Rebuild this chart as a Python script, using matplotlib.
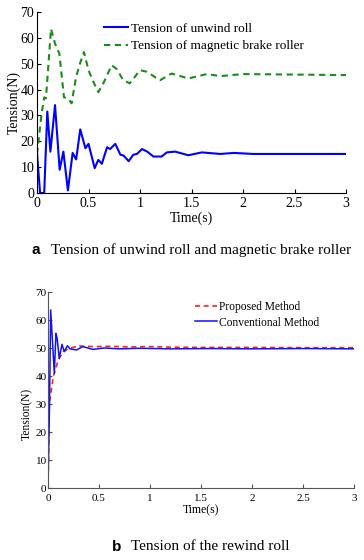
import numpy as np
import matplotlib
matplotlib.use('Agg')
import matplotlib.pyplot as plt

plt.rcParams['font.family'] = ['Liberation Serif', 'DejaVu Serif']

# (a) unwind roll and magnetic brake roller
t_unwind = [0, 0.03, 0.07, 0.10, 0.13, 0.175, 0.22, 0.256, 0.30, 0.346, 0.38, 0.42, 0.47, 0.50,
            0.56, 0.595, 0.63, 0.68, 0.71, 0.76, 0.81, 0.84, 0.89, 0.935, 0.97, 1.02, 1.07,
            1.13, 1.21, 1.26, 1.34, 1.47, 1.60, 1.78, 1.91, 2.1, 3.0]
T_unwind = [15.4, 0, 0, 31.5, 16, 34, 9, 16, 1, 15.5, 13, 24.6, 17.3, 19,
            9.6, 12.8, 11.3, 17.7, 17, 19, 14.8, 14.5, 12.3, 14.8, 15.1, 17, 16,
            14.1, 14.1, 15.7, 16, 14.6, 15.7, 15.1, 15.5, 15.1, 15.1]
t_brake = [0, 0.045, 0.07, 0.087, 0.136, 0.175, 0.217, 0.262, 0.30, 0.336, 0.38, 0.417, 0.456,
           0.50, 0.547, 0.595, 0.644, 0.725, 0.773, 0.838, 0.90, 1.0, 1.065, 1.194, 1.307,
           1.47, 1.65, 1.78, 2.0, 3.0]
T_brake = [15, 30.8, 37, 36.6, 63.5, 57.8, 53.9, 37, 36.6, 34.7, 45, 50, 54.5,
           47.5, 43, 39, 42.4, 49.4, 48, 43.6, 42.4, 47.5, 46.9, 43.6, 46.2,
           44.3, 46, 45.2, 46, 45.6]

# (b) rewind roll
t_prop = [0, 0.013, 0.052, 0.10, 0.15, 0.215, 0.31, 0.45, 0.6, 0.8, 1.0, 1.2, 1.5, 2.0, 2.5, 3.0]
T_prop = [0, 30.2, 39.8, 45.7, 48.7, 50, 50.7, 50.5, 50.6, 50.4, 50.5, 50.3, 50.2, 50.2, 50.1, 50.1]
t_conv = [0, 0.015, 0.026, 0.062, 0.078, 0.09, 0.11, 0.137, 0.16, 0.19, 0.215, 0.28, 0.34,
          0.44, 0.55, 0.7, 0.9, 1.2, 1.6, 2.0, 2.5, 3.0]
T_conv = [0, 30, 63.6, 41, 55.2, 53.4, 46.3, 51.3, 48.7, 50.8, 49.7, 49.3, 50.5,
          49.5, 50.0, 49.7, 49.9, 49.7, 49.8, 49.7, 49.8, 49.7]

xticks = [0, 0.5, 1, 1.5, 2, 2.5, 3]
xlabels = ['0', '0.5', '1', '1.5', '2', '2.5', '3']

fig = plt.figure(figsize=(3.64, 5.6), dpi=100)

ax1 = fig.add_axes([37/364, 1 - 193/560, 309/364, 181/560])
ax1.plot(t_unwind, T_unwind, color='#0000ff', lw=1.5, label='Tension of unwind roll')
ax1.plot(t_brake, T_brake, color='#1a8c1a', lw=1.5, ls=(0, (3, 2.2)), label='Tension of magnetic brake roller')
ax1.set_xlim(0, 3)
ax1.set_ylim(0, 70)
ax1.set_xticks(xticks)
ax1.set_xticklabels(xlabels)
ax1.set_yticks(range(0, 71, 10))
ax1.tick_params(direction='in', labelsize=10, length=3)
ax1.tick_params(axis='x', pad=3)
ax1.tick_params(axis='y', pad=2)
ax1.spines['top'].set_visible(False)
ax1.spines['right'].set_visible(False)
ax1.set_xlabel('Time(s)', fontsize=10, labelpad=1)
ax1.set_ylabel('Tension(N)', fontsize=10, labelpad=0)
ax1.legend(loc='upper left', bbox_to_anchor=(0.187, 0.992), frameon=False, fontsize=9.5,
           handlelength=1.8, handletextpad=0.25, labelspacing=0.38, borderaxespad=0.3)

ax2 = fig.add_axes([48/364, 1 - 488/560, 306/364, 196/560])
ax2.plot(t_prop, T_prop, color='#ff2020', lw=1.2, ls=(0, (3, 2.2)), label='Proposed Method')
ax2.plot(t_conv, T_conv, color='#1010ff', lw=1.1, label='Conventional Method')
ax2.set_xlim(0, 3)
ax2.set_ylim(0, 70)
ax2.set_xticks(xticks)
ax2.set_xticklabels(xlabels)
ax2.set_yticks(range(0, 71, 10))
ax2.tick_params(direction='in', labelsize=8, length=3, color='#555555')
ax2.tick_params(axis='x', pad=4)
ax2.tick_params(axis='y', pad=1)
ax2.spines['top'].set_visible(False)
ax2.spines['right'].set_visible(False)
ax2.spines['left'].set_color('#555555')
ax2.spines['bottom'].set_color('#555555')
ax2.set_xlabel('Time(s)', fontsize=8.5, labelpad=1)
ax2.set_ylabel('Tension(N)', fontsize=8.3)
ax2.yaxis.set_label_coords(-0.048, 0.38)
ax2.legend(loc='upper left', bbox_to_anchor=(0.4535, 0.995), frameon=False, fontsize=8.3,
           handlelength=1.9, handletextpad=0.2, labelspacing=0.3, borderaxespad=0.3)

fig.text(31/364, 1 - 250/560, 'a', fontsize=11, fontweight='bold', family='Liberation Sans', va='center')
fig.text(51/364, 1 - 250/560, 'Tension of unwind roll and magnetic brake roller', fontsize=11, va='center')
fig.text(112/364, 1 - 547/560, 'b', fontsize=11, fontweight='bold', family='Liberation Sans', va='center')
fig.text(131/364, 1 - 547/560, 'Tension of the rewind roll', fontsize=11, va='center')

fig.savefig('out.png', dpi=100)
